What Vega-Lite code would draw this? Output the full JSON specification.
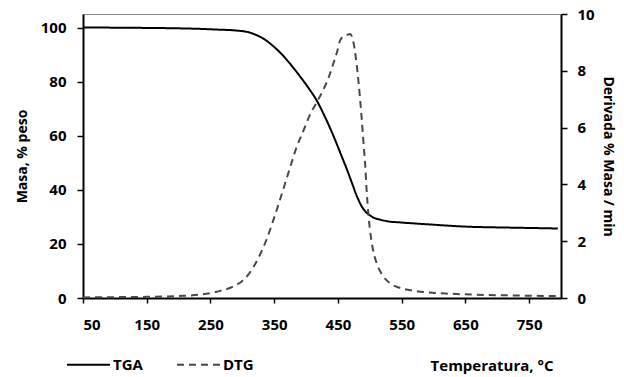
{
  "$schema": "https://vega.github.io/schema/vega-lite/v6.json",
  "autosize": {"type": "none"},
  "width": 478,
  "height": 284,
  "padding": {"left": 83, "top": 14, "right": 63, "bottom": 79},
  "config": {
    "font": "Open Sans",
    "view": {"stroke": "#8c8c8c", "strokeWidth": 1},
    "axis": {
      "grid": false,
      "domainColor": "#000000",
      "domainWidth": 2,
      "tickColor": "#000000",
      "tickWidth": 1.5,
      "tickSize": 6,
      "labelFont": "Open Sans",
      "labelFontSize": 15,
      "labelFontWeight": "bold",
      "labelColor": "#000000",
      "titleFont": "Open Sans",
      "titleFontSize": 14,
      "titleFontWeight": "bold",
      "titleColor": "#000000"
    }
  },
  "data": {
    "values": [
      {"T": 50, "serie": "TGA", "valor": 100.0},
      {"T": 100, "serie": "TGA", "valor": 99.95},
      {"T": 150, "serie": "TGA", "valor": 99.85},
      {"T": 200, "serie": "TGA", "valor": 99.7},
      {"T": 234, "serie": "TGA", "valor": 99.5},
      {"T": 260, "serie": "TGA", "valor": 99.25},
      {"T": 290, "serie": "TGA", "valor": 98.9},
      {"T": 312, "serie": "TGA", "valor": 98.1},
      {"T": 325, "serie": "TGA", "valor": 96.9},
      {"T": 338, "serie": "TGA", "valor": 95.1},
      {"T": 351, "serie": "TGA", "valor": 92.6},
      {"T": 364, "serie": "TGA", "valor": 89.6},
      {"T": 377, "serie": "TGA", "valor": 86.0},
      {"T": 390, "serie": "TGA", "valor": 82.1},
      {"T": 404, "serie": "TGA", "valor": 77.6},
      {"T": 417, "serie": "TGA", "valor": 72.9},
      {"T": 430, "serie": "TGA", "valor": 66.8},
      {"T": 443, "serie": "TGA", "valor": 59.9},
      {"T": 454, "serie": "TGA", "valor": 53.5},
      {"T": 464, "serie": "TGA", "valor": 47.6},
      {"T": 472, "serie": "TGA", "valor": 42.5},
      {"T": 480, "serie": "TGA", "valor": 37.5},
      {"T": 487, "serie": "TGA", "valor": 34.0},
      {"T": 493, "serie": "TGA", "valor": 32.0},
      {"T": 500, "serie": "TGA", "valor": 30.6},
      {"T": 506, "serie": "TGA", "valor": 29.7},
      {"T": 516, "serie": "TGA", "valor": 29.0},
      {"T": 527, "serie": "TGA", "valor": 28.4},
      {"T": 550, "serie": "TGA", "valor": 27.9},
      {"T": 574, "serie": "TGA", "valor": 27.5},
      {"T": 600, "serie": "TGA", "valor": 27.1},
      {"T": 626, "serie": "TGA", "valor": 26.7},
      {"T": 650, "serie": "TGA", "valor": 26.4},
      {"T": 700, "serie": "TGA", "valor": 26.1},
      {"T": 750, "serie": "TGA", "valor": 25.9},
      {"T": 795, "serie": "TGA", "valor": 25.7},
      {"T": 50, "serie": "DTG", "valor": 0.02},
      {"T": 100, "serie": "DTG", "valor": 0.03},
      {"T": 150, "serie": "DTG", "valor": 0.04},
      {"T": 200, "serie": "DTG", "valor": 0.07},
      {"T": 234, "serie": "DTG", "valor": 0.12},
      {"T": 260, "serie": "DTG", "valor": 0.22},
      {"T": 286, "serie": "DTG", "valor": 0.41},
      {"T": 300, "serie": "DTG", "valor": 0.6},
      {"T": 312, "serie": "DTG", "valor": 0.9},
      {"T": 325, "serie": "DTG", "valor": 1.4},
      {"T": 338, "serie": "DTG", "valor": 2.06},
      {"T": 351, "serie": "DTG", "valor": 2.9},
      {"T": 364, "serie": "DTG", "valor": 3.81},
      {"T": 375, "serie": "DTG", "valor": 4.6},
      {"T": 385, "serie": "DTG", "valor": 5.3},
      {"T": 396, "serie": "DTG", "valor": 5.9},
      {"T": 406, "serie": "DTG", "valor": 6.45},
      {"T": 417, "serie": "DTG", "valor": 6.9},
      {"T": 427, "serie": "DTG", "valor": 7.33},
      {"T": 436, "serie": "DTG", "valor": 7.8},
      {"T": 443, "serie": "DTG", "valor": 8.27},
      {"T": 449, "serie": "DTG", "valor": 8.7},
      {"T": 453, "serie": "DTG", "valor": 9.05},
      {"T": 458, "serie": "DTG", "valor": 9.2},
      {"T": 464, "serie": "DTG", "valor": 9.26},
      {"T": 469, "serie": "DTG", "valor": 9.3},
      {"T": 472, "serie": "DTG", "valor": 9.2},
      {"T": 476, "serie": "DTG", "valor": 8.8},
      {"T": 480, "serie": "DTG", "valor": 8.1},
      {"T": 484, "serie": "DTG", "valor": 7.2},
      {"T": 487, "serie": "DTG", "valor": 6.4},
      {"T": 490, "serie": "DTG", "valor": 5.5},
      {"T": 493, "serie": "DTG", "valor": 4.6},
      {"T": 495, "serie": "DTG", "valor": 3.8},
      {"T": 498, "serie": "DTG", "valor": 2.9},
      {"T": 502, "serie": "DTG", "valor": 2.1},
      {"T": 506, "serie": "DTG", "valor": 1.6},
      {"T": 512, "serie": "DTG", "valor": 1.15},
      {"T": 521, "serie": "DTG", "valor": 0.77},
      {"T": 533, "serie": "DTG", "valor": 0.5},
      {"T": 547, "serie": "DTG", "valor": 0.36},
      {"T": 570, "serie": "DTG", "valor": 0.25},
      {"T": 600, "serie": "DTG", "valor": 0.18},
      {"T": 626, "serie": "DTG", "valor": 0.15},
      {"T": 660, "serie": "DTG", "valor": 0.12},
      {"T": 700, "serie": "DTG", "valor": 0.1},
      {"T": 750, "serie": "DTG", "valor": 0.08},
      {"T": 795, "serie": "DTG", "valor": 0.07}
    ]
  },
  "encoding": {
    "x": {
      "field": "T",
      "type": "quantitative",
      "scale": {"domain": [50, 800], "nice": false, "zero": false},
      "axis": {
        "values": [50, 150, 250, 350, 450, 550, 650, 750],
        "tickSize": 5,
        "labelPadding": 14,
        "title": "Temperatura, °C",
        "titleX": 470,
        "titleY": 72,
        "titleAlign": "right",
        "titleBaseline": "alphabetic",
        "titleFontSize": 15
      }
    },
    "color": {
      "field": "serie",
      "type": "nominal",
      "scale": {"domain": ["TGA", "DTG"], "range": ["#000000", "#484848"]},
      "legend": {
        "orient": "none",
        "legendX": -17,
        "legendY": 328,
        "direction": "horizontal",
        "title": null,
        "symbolType": "stroke",
        "symbolSize": 1849,
        "symbolStrokeWidth": 2,
        "labelFont": "Open Sans",
        "labelFontSize": 15,
        "labelFontWeight": "bold",
        "labelColor": "#000000",
        "labelOffset": 2,
        "columnPadding": 30
      }
    },
    "strokeDash": {
      "field": "serie",
      "type": "nominal",
      "scale": {"domain": ["TGA", "DTG"], "range": [[1, 0], [7, 5]]},
      "legend": {
        "orient": "none",
        "legendX": -17,
        "legendY": 328,
        "direction": "horizontal",
        "title": null,
        "symbolType": "stroke",
        "symbolSize": 1849,
        "symbolStrokeWidth": 2,
        "labelFont": "Open Sans",
        "labelFontSize": 15,
        "labelFontWeight": "bold",
        "labelColor": "#000000",
        "labelOffset": 2,
        "columnPadding": 30
      }
    }
  },
  "layer": [
    {
      "transform": [{"filter": "datum.serie === 'TGA'"}],
      "mark": {"type": "line", "interpolate": "monotone", "strokeWidth": 2},
      "encoding": {
        "y": {
          "field": "valor",
          "type": "quantitative",
          "scale": {"domain": [0, 105], "nice": false},
          "axis": {
            "orient": "left",
            "values": [0, 20, 40, 60, 80, 100],
            "labelPadding": 11,
            "title": "Masa, % peso",
            "titlePadding": 11
          }
        }
      }
    },
    {
      "transform": [{"filter": "datum.serie === 'DTG'"}],
      "mark": {"type": "line", "interpolate": "monotone", "strokeWidth": 2},
      "encoding": {
        "y": {
          "field": "valor",
          "type": "quantitative",
          "scale": {"domain": [0, 10], "nice": false},
          "axis": {
            "orient": "right",
            "values": [0, 2, 4, 6, 8, 10],
            "labelPadding": 10,
            "title": "Derivada % Masa / min",
            "titlePadding": 6
          }
        }
      }
    }
  ],
  "resolve": {"scale": {"y": "independent"}}
}
